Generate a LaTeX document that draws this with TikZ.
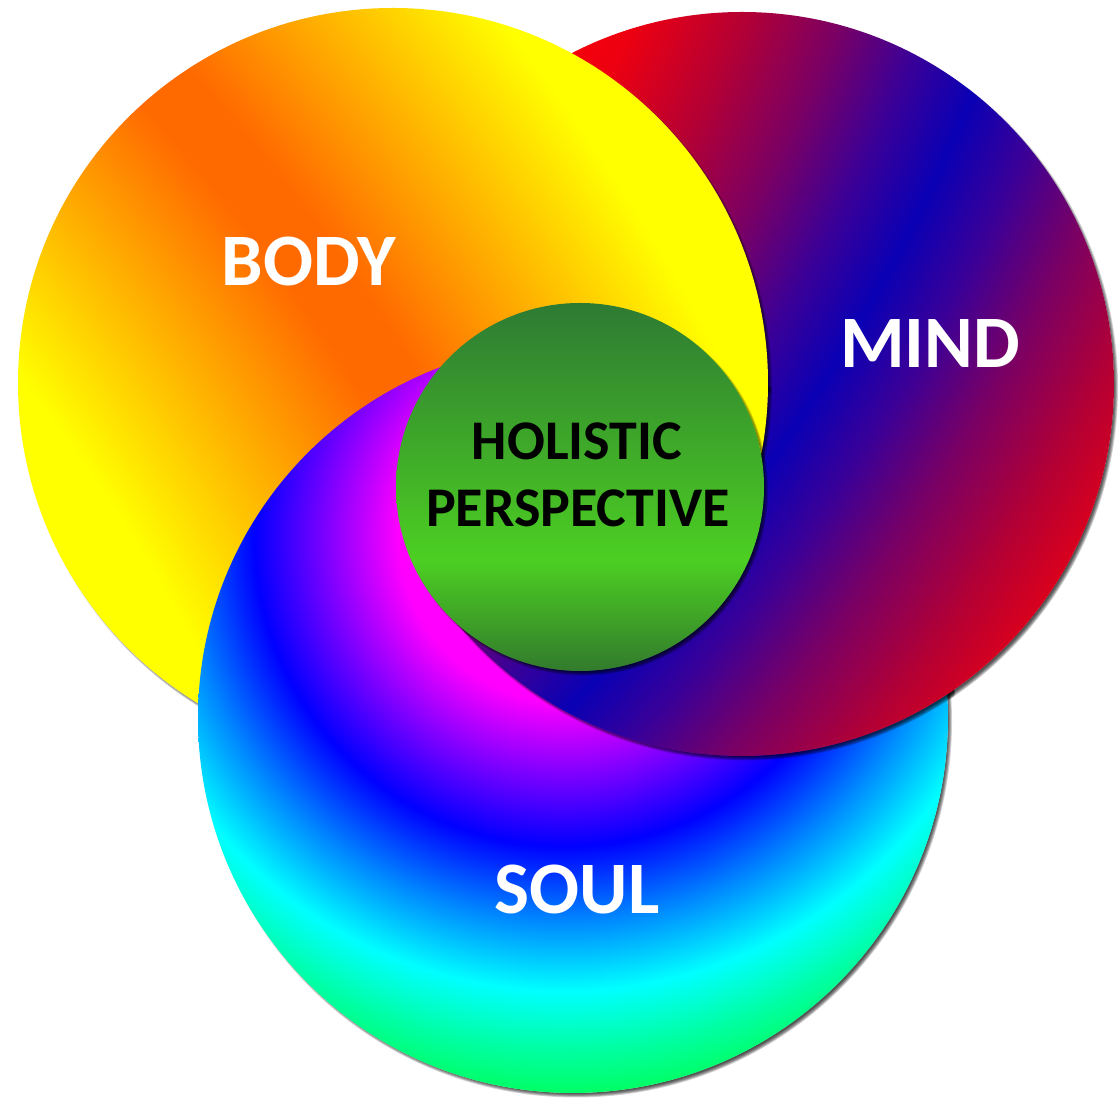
\documentclass[tikz,border=0pt]{standalone}
\usepackage{fontspec}
\setmainfont{Carlito}
\definecolor{byel}{HTML}{FFFF00}
\definecolor{borg}{HTML}{FF6A00}
\definecolor{mred}{HTML}{FF0000}
\definecolor{mredb}{HTML}{EE0010}
\definecolor{mcrim}{HTML}{B40034}
\definecolor{mpur}{HTML}{7A0064}
\definecolor{mpurb}{HTML}{3A0098}
\definecolor{mblue}{HTML}{0A00B4}
\definecolor{smag}{HTML}{FF00FF}
\definecolor{svio}{HTML}{8800FF}
\definecolor{sblue}{HTML}{0000FF}
\definecolor{sazure}{HTML}{0088FF}
\definecolor{scyan}{HTML}{00FFFF}
\definecolor{saqua}{HTML}{00FFA8}
\definecolor{sgreen}{HTML}{00FF60}
\definecolor{sgreenb}{HTML}{00FF50}
\definecolor{gtop}{HTML}{2E7A33}
\definecolor{gmid}{HTML}{4CCF22}
\definecolor{gbot}{HTML}{327A2C}
% far-centred radial shadings: u(bp) = (2000 + s)/100, s = signed distance from the band
\pgfdeclareradialshading{bodysh}{\pgfpointorigin}{color(0bp)=(byel); color(17bp)=(byel); color(19.7bp)=(borg); color(20.3bp)=(borg); color(23bp)=(byel); color(25bp)=(byel); color(50bp)=(byel)}
\pgfdeclareradialshading{mindsh}{\pgfpointorigin}{color(0bp)=(mred); color(15.4bp)=(mred); color(16.6bp)=(mredb); color(17.6bp)=(mcrim); color(18.5bp)=(mpur); color(19.3bp)=(mpurb); color(20bp)=(mblue); color(20.7bp)=(mpurb); color(21.5bp)=(mpur); color(22.4bp)=(mcrim); color(23.4bp)=(mredb); color(24.6bp)=(mred); color(50bp)=(mred)}
\pgfdeclareradialshading{soulsh}{\pgfpointorigin}{color(0bp)=(smag); color(5.9bp)=(smag); color(8.3bp)=(svio); color(11.071bp)=(sblue); color(13.75bp)=(sazure); color(16.25bp)=(scyan); color(18.214bp)=(saqua); color(20bp)=(sgreen); color(25bp)=(sgreenb); color(50bp)=(sgreenb)}
\pgfdeclareverticalshading{greensh}{100bp}{color(0bp)=(gbot); color(25bp)=(gbot); color(40bp)=(gmid); color(75bp)=(gtop); color(100bp)=(gtop)}
\tikzset{
  shadowlayer/.style={fill=black,opacity=0.17},
  lbl/.style={anchor=base,inner sep=0pt,text=white,font=\fontsize{74}{80}\selectfont\bfseries},
  centerlbl/.style={anchor=base,inner sep=0pt,text=black,font=\fontsize{56}{67}\selectfont\bfseries}
}
% soft drop shadow, kept outside the circle itself
\newcommand{\castshadow}[3]{\begin{scope}[even odd rule]\clip (#1,#2) circle (#3) (-500,-500) rectangle (1700,1700);\foreach \k in {0,...,5}{\fill[shadowlayer] (#1+3,#2-3.5) circle ({#3-3+0.8*\k});}\end{scope}}
\newcommand{\drawbody}{\castshadow{393}{717}{375}\begin{scope}\clip (393,717) circle (375);\shade[shading=bodysh] (-1310,-338) circle (2500);\end{scope}}
\newcommand{\drawmind}{\castshadow{742}{716}{372}\begin{scope}\clip (742,716) circle (372);\shade[shading=mindsh] (-872,1780) circle (2500);\end{scope}}
\newcommand{\drawsoul}{\castshadow{573}{382}{375}\begin{scope}\clip (573,382) circle (375);\shade[shading=soulsh] (564,564) circle (700);\end{scope}}
% region of the soul circle together with its shadow
\newcommand{\soulhull}{(574.5,380) circle (381)}
\newcommand{\soulhullwide}{(574.5,380) circle (386)}
\begin{document}
\begin{tikzpicture}[x=1pt,y=1pt]
\path[use as bounding box,fill=white] (0,0) rectangle (1120,1100);
\coordinate (hub) at (580,613);
% base order: mind, body, soul
\drawmind
\drawbody
\drawsoul
% mind lies over soul (except in the sector where soul is on top)
\begin{scope}
  \clip \soulhull;
  \clip (hub) -- +(32.45:3000) -- +(-57.55:3000) -- +(-147.55:3000) -- cycle;
  \drawmind
\end{scope}
% body lies over mind and soul in the right-hand sector
\begin{scope}
  \clip \soulhullwide;
  \clip (hub) -- +(0:3000) -- +(30:3000) -- +(60:3000) -- cycle;
  \drawbody
\end{scope}
% centre circle
\castshadow{580}{613}{184}
\shade[shading=greensh] (hub) circle (184);
\node[lbl] (body) at (309,814) {BODY};
\node[lbl] (mind) at (930,732) {MIND};
\node[lbl] (soul) at (577,186) {SOUL};
\node[centerlbl] (holistic) at (577,640) {HOLISTIC};
\node[centerlbl] (perspective) at (578,573) {PERSPECTIVE};
\end{tikzpicture}
\end{document}
